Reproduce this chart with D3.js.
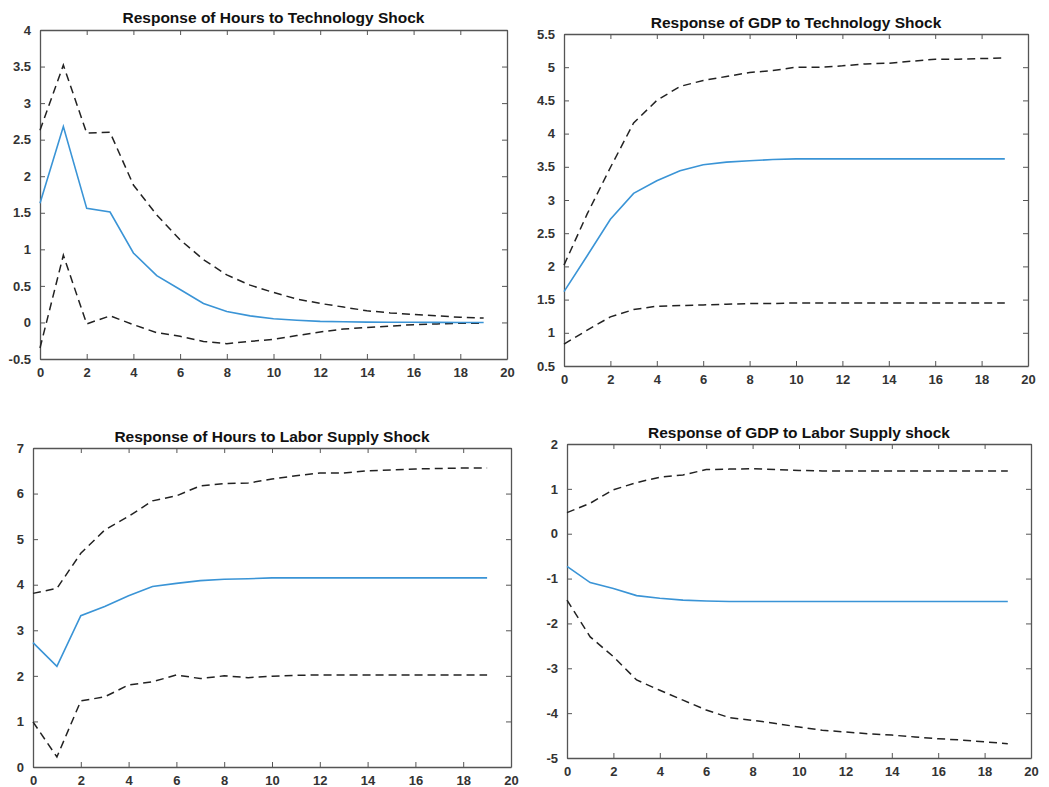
<!DOCTYPE html>
<html>
<head>
<meta charset="utf-8">
<script src="https://cdn.jsdelivr.net/npm/d3@7"></script>
<style>
  body { margin: 0; background: #fff; }
  svg text { font-family: "Liberation Sans", Arial, sans-serif; }
</style>
</head>
<body>
<div id="chart"></div>
<script>
// horizon 0..19
var horizon = d3.range(0, 20);

// Hours to technology shock
var hoursTechMid = [1.63, 2.68, 1.56, 1.51, 0.95, 0.64, 0.45, 0.26, 0.15, 0.09, 0.05, 0.03, 0.015, 0.01, 0.005, 0.003, 0.002, 0.001, 0.0, 0.0];
var hoursTechUp = [2.63, 3.52, 2.59, 2.6, 1.88, 1.47, 1.13, 0.86, 0.65, 0.51, 0.41, 0.32, 0.26, 0.21, 0.16, 0.13, 0.11, 0.09, 0.07, 0.06];
var hoursTechLo = [-0.35, 0.92, -0.02, 0.09, -0.03, -0.14, -0.19, -0.26, -0.29, -0.26, -0.23, -0.18, -0.13, -0.09, -0.07, -0.05, -0.03, -0.02, -0.01, -0.01];

// GDP to technology shock
var gdpTechMid = [1.62, 2.16, 2.71, 3.1, 3.29, 3.44, 3.53, 3.57, 3.59, 3.61, 3.62, 3.62, 3.62, 3.62, 3.62, 3.62, 3.62, 3.62, 3.62, 3.62];
var gdpTechUp = [2.02, 2.79, 3.49, 4.16, 4.5, 4.71, 4.8, 4.86, 4.92, 4.95, 5.0, 5.0, 5.02, 5.05, 5.06, 5.09, 5.12, 5.12, 5.13, 5.14];
var gdpTechLo = [0.83, 1.04, 1.24, 1.35, 1.4, 1.41, 1.42, 1.43, 1.44, 1.44, 1.45, 1.45, 1.45, 1.45, 1.45, 1.45, 1.45, 1.45, 1.45, 1.45];

// Hours to labor supply shock
var hoursLabMid = [2.73, 2.21, 3.32, 3.52, 3.76, 3.96, 4.03, 4.09, 4.12, 4.13, 4.15, 4.15, 4.15, 4.15, 4.15, 4.15, 4.15, 4.15, 4.15, 4.15];
var hoursLabUp = [3.81, 3.92, 4.69, 5.2, 5.5, 5.84, 5.95, 6.17, 6.22, 6.23, 6.32, 6.39, 6.45, 6.45, 6.5, 6.52, 6.54, 6.55, 6.56, 6.56];
var hoursLabLo = [0.99, 0.22, 1.45, 1.54, 1.8, 1.87, 2.02, 1.94, 2.0, 1.96, 1.99, 2.01, 2.02, 2.02, 2.02, 2.02, 2.02, 2.02, 2.02, 2.02];

// GDP to labor supply shock
var gdpLabMid = [-0.73, -1.09, -1.22, -1.38, -1.44, -1.48, -1.5, -1.51, -1.51, -1.51, -1.51, -1.51, -1.51, -1.51, -1.51, -1.51, -1.51, -1.51, -1.51, -1.51];
var gdpLabUp = [0.47, 0.68, 0.98, 1.14, 1.26, 1.31, 1.43, 1.44, 1.45, 1.43, 1.41, 1.4, 1.4, 1.4, 1.4, 1.4, 1.4, 1.4, 1.4, 1.4];
var gdpLabLo = [-1.48, -2.3, -2.74, -3.26, -3.49, -3.71, -3.93, -4.1, -4.16, -4.23, -4.31, -4.38, -4.42, -4.46, -4.49, -4.53, -4.57, -4.6, -4.64, -4.68];

var titles = [
    "Response of Hours to Technology Shock",
    "Response of GDP to Technology Shock",
    "Response of Hours to Labor Supply Shock",
    "Response of GDP to Labor Supply shock"
];
var xTicks = d3.range(0, 21, 2);
var yTicks = [
    d3.range(-0.5, 4.01, 0.5),
    d3.range(0.5, 5.51, 0.5),
    d3.range(0, 7.01, 1),
    d3.range(-5, 2.01, 1)
];
var yDomains = [[-0.5, 4], [0.5, 5.5], [0, 7], [-5, 2]];

var panels = [
    {left: 40, right: 507, top: 30, bottom: 359, mid: hoursTechMid, up: hoursTechUp, lo: hoursTechLo, titleY: 23},
    {left: 564, right: 1028, top: 34, bottom: 366, mid: gdpTechMid, up: gdpTechUp, lo: gdpTechLo, titleY: 28},
    {left: 33, right: 511, top: 448, bottom: 767, mid: hoursLabMid, up: hoursLabUp, lo: hoursLabLo, titleY: 442},
    {left: 567, right: 1031, top: 444, bottom: 758, mid: gdpLabMid, up: gdpLabUp, lo: gdpLabLo, titleY: 438}
];

var svg = d3.select("#chart").append("svg")
    .attr("width", 1049)
    .attr("height", 787);

panels.forEach((p, i) => {
    var x = d3.scaleLinear().domain([0, 20]).range([p.left, p.right]);
    var y = d3.scaleLinear().domain(yDomains[i]).range([p.bottom, p.top]);
    var g = svg.append("g");

    // axes on all four sides, ticks pointing inward
    var fmt = d => String(+d.toFixed(1));
    g.append("g")
        .attr("transform", `translate(0,${p.bottom})`)
        .call(d3.axisBottom(x).tickValues(xTicks).tickSizeInner(-5).tickSizeOuter(0).tickPadding(9).tickFormat(fmt));
    g.append("g")
        .attr("transform", `translate(0,${p.top})`)
        .call(d3.axisTop(x).tickValues(xTicks).tickSizeInner(-5).tickSizeOuter(0).tickFormat(""));
    g.append("g")
        .attr("transform", `translate(${p.left},0)`)
        .call(d3.axisLeft(y).tickValues(yTicks[i]).tickSizeInner(-5).tickSizeOuter(0).tickPadding(9).tickFormat(fmt));
    g.append("g")
        .attr("transform", `translate(${p.right},0)`)
        .call(d3.axisRight(y).tickValues(yTicks[i]).tickSizeInner(-5).tickSizeOuter(0).tickFormat(""));

    g.selectAll(".domain").attr("stroke", "#555").attr("stroke-width", 1.3);
    g.selectAll(".tick line").attr("stroke", "#555").attr("stroke-width", 1);
    g.selectAll(".tick text")
        .attr("fill", "#333")
        .attr("font-size", 13)
        .attr("font-weight", "bold");

    var line = d3.line()
        .x((d, k) => x(horizon[k]))
        .y(d => y(d));

    g.append("path")
        .datum(p.up)
        .attr("fill", "none")
        .attr("stroke", "#222")
        .attr("stroke-width", 1.5)
        .attr("stroke-dasharray", "8,5")
        .attr("d", line);
    g.append("path")
        .datum(p.lo)
        .attr("fill", "none")
        .attr("stroke", "#222")
        .attr("stroke-width", 1.5)
        .attr("stroke-dasharray", "8,5")
        .attr("d", line);
    g.append("path")
        .datum(p.mid)
        .attr("fill", "none")
        .attr("stroke", "#3a94d6")
        .attr("stroke-width", 1.6)
        .attr("d", line);

    g.append("text")
        .attr("x", (p.left + p.right) / 2)
        .attr("y", p.titleY)
        .attr("text-anchor", "middle")
        .attr("font-size", 15.5)
        .attr("font-weight", "bold")
        .attr("fill", "#111")
        .text(titles[i]);
});
</script>
</body>
</html>
